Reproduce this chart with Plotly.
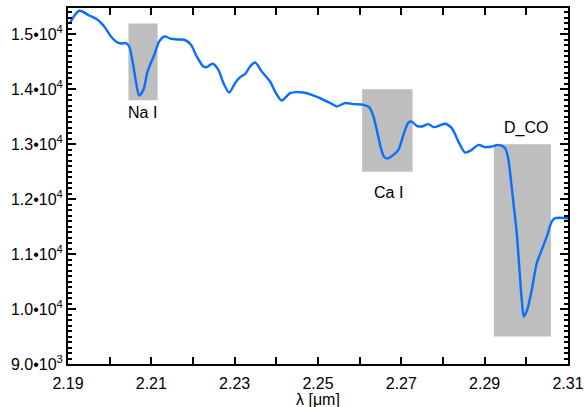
import plotly.graph_objects as go

# Spectrum (wavelength in micron, flux)
wavelength = [2.1905, 2.1927, 2.1951, 2.1971, 2.1987, 2.2003, 2.2015, 2.2027, 2.2039, 2.2047,
              2.2055, 2.2063, 2.2071, 2.2081, 2.2091, 2.2107, 2.2119, 2.2131, 2.2147, 2.2163,
              2.2179, 2.2195, 2.2209, 2.2225, 2.2233, 2.2247, 2.2261, 2.2273, 2.2287, 2.2301,
              2.2313, 2.2325, 2.2337, 2.2349, 2.2365, 2.2385, 2.2399, 2.2413, 2.2433, 2.2449,
              2.2465, 2.2485, 2.2505, 2.2513, 2.2533, 2.2545, 2.2565, 2.2585, 2.2609, 2.2623,
              2.2633, 2.2641, 2.2650, 2.2658, 2.2666, 2.2681, 2.2693, 2.2705, 2.2717, 2.2725,
              2.2737, 2.2749, 2.2765, 2.2778, 2.2805, 2.2821, 2.2837, 2.2853, 2.2869, 2.2885,
              2.2901, 2.2917, 2.2933, 2.2949, 2.2957, 2.2962, 2.2969, 2.2977, 2.2983, 2.2989,
              2.2994, 2.3002, 2.3013, 2.3025, 2.3037, 2.3049, 2.3061, 2.3069, 2.3100]
flux = [15211, 15430, 15344, 15266, 15144, 14962, 14871, 14834, 14842, 14780,
        14506, 14142, 13887, 13991, 14324, 14628, 14871, 14962, 14920, 14907,
        14902, 14811, 14597, 14415, 14404, 14465, 14355, 14113, 13942, 14113,
        14222, 14277, 14415, 14488, 14324, 14142, 13931, 13796, 13931, 13949,
        13942, 13900, 13840, 13809, 13736, 13687, 13749, 13730, 13718, 13676,
        13505, 13262, 12958, 12776, 12740, 12807, 12898, 13171, 13395, 13413,
        13335, 13322, 13366, 13311, 13372, 13293, 13049, 12849, 12898, 12989,
        12947, 12958, 12989, 12929, 12716, 12412, 11933, 11381, 10772, 10166,
        9862, 9984, 10348, 10834, 11077, 11319, 11592, 11654, 11654]

# Line-feature windows
feature_names = ["Na I", "Ca I", "D_CO"]
feature_x0 = [2.2045, 2.2606, 2.2922]
feature_x1 = [2.2115, 2.2727, 2.3059]
feature_y0 = [13800, 12500, 9500]
feature_y1 = [15200, 14000, 13000]
label_x = [2.2079, 2.2668, 2.3000]
label_y = [13572, 12115, 13293]

# Axis ticks
x_tickvals = [2.19, 2.20, 2.21, 2.22, 2.23, 2.24, 2.25, 2.26, 2.27, 2.28, 2.29, 2.30, 2.31]
x_ticktext = ["2.19", "", "2.21", "", "2.23", "", "2.25", "", "2.27", "", "2.29", "", "2.31"]
y_tickvals = [9000, 10000, 11000, 12000, 13000, 14000, 15000]
y_ticktext = ["9.0\u202210<sup>3</sup>", "1.0\u202210<sup>4</sup>", "1.1\u202210<sup>4</sup>",
              "1.2\u202210<sup>4</sup>", "1.3\u202210<sup>4</sup>", "1.4\u202210<sup>4</sup>",
              "1.5\u202210<sup>4</sup>"]

fig = go.Figure()
fig.add_trace(go.Scatter(x=wavelength, y=flux, mode="lines",
                         line=dict(color="rgb(10,110,255)", width=2.4, shape="spline", smoothing=0.8),
                         showlegend=False, hoverinfo="skip"))

for i, name in enumerate(feature_names):
    fig.add_shape(type="rect", x0=feature_x0[i], x1=feature_x1[i], y0=feature_y0[i], y1=feature_y1[i],
                  xref="x", yref="y", fillcolor="rgb(190,190,190)", line=dict(width=0), layer="below")
    fig.add_annotation(x=label_x[i], y=label_y[i], text=name, showarrow=False,
                       font=dict(size=16, color="black"), xanchor="center", yanchor="middle")

# x-axis title placed just below the tick labels
fig.add_annotation(x=0.5, y=-0.101, xref="paper", yref="paper", text="\u03bb [\u03bcm]",
                   showarrow=False, font=dict(size=16, color="black"),
                   xanchor="center", yanchor="middle")

font_family = "Liberation Sans, Arial, sans-serif"
fig.update_layout(
    width=584, height=407,
    margin=dict(l=68, r=16, t=8, b=43, pad=0),
    paper_bgcolor="white", plot_bgcolor="white",
    font=dict(family=font_family, size=16, color="black"),
    xaxis=dict(range=[2.19, 2.31], tickvals=x_tickvals, ticktext=x_ticktext,
               ticks="inside", ticklen=7, tickwidth=2, tickcolor="black",
               showline=True, linewidth=2, linecolor="black", mirror="allticks",
               showgrid=False, zeroline=False, automargin=False, ticklabelstandoff=4,
               tickfont=dict(size=16)),
    yaxis=dict(range=[9000, 15480], tickvals=y_tickvals, ticktext=y_ticktext,
               ticks="inside", ticklen=8, tickwidth=2, tickcolor="black",
               showline=True, linewidth=2, linecolor="black", mirror="allticks",
               showgrid=False, zeroline=False, automargin=False, tickfont=dict(size=16),
               minor=dict(dtick=100, ticks="inside", ticklen=4, tickwidth=2, tickcolor="black",
                          showgrid=False)),
)

# Remove the default page margin so the figure fills the window exactly
page_fix = ("document.body.style.margin='0';"
            "document.body.style.overflow='hidden';"
            "document.documentElement.style.overflow='hidden';")
fig.write_html("out.html", post_script=page_fix, config={"displayModeBar": False})
